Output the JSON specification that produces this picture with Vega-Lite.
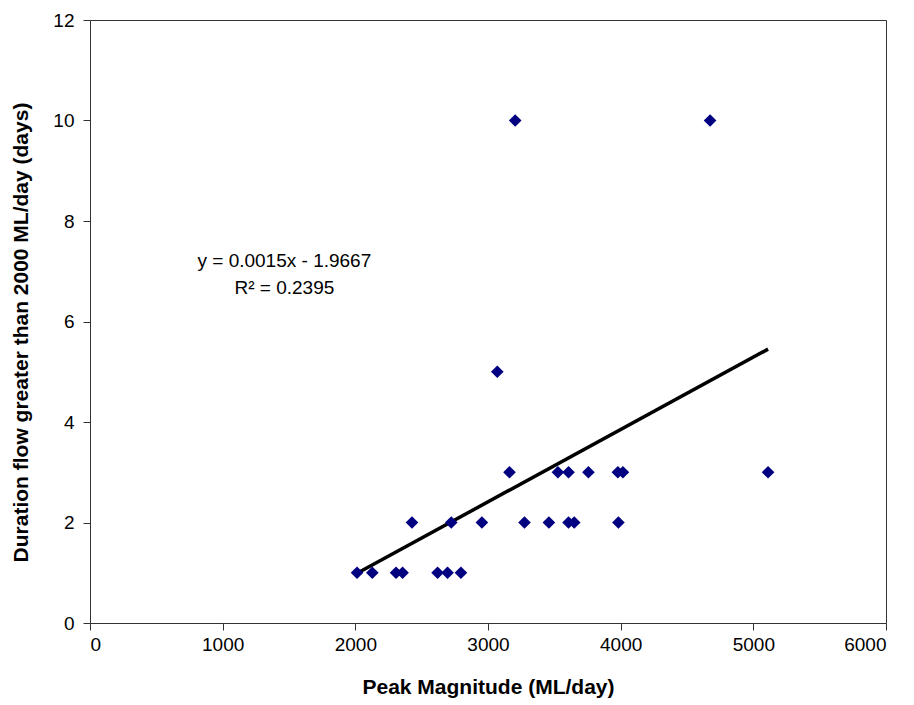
{
  "$schema": "https://vega.github.io/schema/vega-lite/v6.json",
  "autosize": {"type": "none"},
  "width": 796,
  "height": 603,
  "padding": {"left": 90, "top": 20, "right": 28, "bottom": 82},
  "background": "white",
  "config": {
    "view": {"stroke": "#333333", "strokeWidth": 1},
    "font": "Liberation Sans"
  },
  "datasets": {
    "points": [
      {"peak": 2013, "duration": 1}, {"peak": 2128, "duration": 1}, {"peak": 2307, "duration": 1},
      {"peak": 2356, "duration": 1}, {"peak": 2620, "duration": 1}, {"peak": 2695, "duration": 1},
      {"peak": 2796, "duration": 1},
      {"peak": 2427, "duration": 2}, {"peak": 2723, "duration": 2}, {"peak": 2954, "duration": 2},
      {"peak": 3275, "duration": 2}, {"peak": 3459, "duration": 2}, {"peak": 3607, "duration": 2},
      {"peak": 3650, "duration": 2}, {"peak": 3983, "duration": 2},
      {"peak": 3162, "duration": 3}, {"peak": 3527, "duration": 3}, {"peak": 3607, "duration": 3},
      {"peak": 3757, "duration": 3}, {"peak": 3979, "duration": 3}, {"peak": 4017, "duration": 3},
      {"peak": 5111, "duration": 3},
      {"peak": 3070, "duration": 5},
      {"peak": 3205, "duration": 10}, {"peak": 4674, "duration": 10}
    ],
    "trend": [
      {"peak": 2013, "duration": 0.99},
      {"peak": 5111, "duration": 5.45}
    ],
    "labels": [
      {"peak": 1465, "duration": 7.21, "text": "y = 0.0015x - 1.9667"},
      {"peak": 1465, "duration": 6.67, "text": "R² = 0.2395"}
    ]
  },
  "layer": [
    {
      "data": {"name": "trend"},
      "mark": {"type": "line", "color": "black", "strokeWidth": 3.5},
      "encoding": {
        "x": {
          "field": "peak", "type": "quantitative",
          "scale": {"domain": [0, 6000], "nice": false},
          "axis": {
            "title": "Peak Magnitude (ML/day)",
            "values": [0, 1000, 2000, 3000, 4000, 5000, 6000],
            "format": "d",
            "grid": false, "domain": false,
            "tickColor": "#333333", "tickSize": 7,
            "labelFontSize": 19, "labelColor": "black", "labelPadding": 5,
            "titleFontSize": 21, "titleFontWeight": "bold", "titleColor": "black",
            "titlePadding": 22
          }
        },
        "y": {
          "field": "duration", "type": "quantitative",
          "scale": {"domain": [0, 12], "nice": false},
          "axis": {
            "title": "Duration flow greater than 2000 ML/day  (days)",
            "values": [0, 2, 4, 6, 8, 10, 12],
            "grid": false, "domain": false,
            "tickColor": "#333333", "tickSize": 7,
            "labelFontSize": 19, "labelColor": "black", "labelPadding": 9,
            "titleFontSize": 21, "titleFontWeight": "bold", "titleColor": "black",
            "titlePadding": 21, "titleY": 312
          }
        }
      }
    },
    {
      "data": {"name": "points"},
      "mark": {"type": "point", "shape": "diamond", "filled": true, "color": "#000080", "size": 160, "opacity": 1},
      "encoding": {
        "x": {"field": "peak", "type": "quantitative"},
        "y": {"field": "duration", "type": "quantitative"}
      }
    },
    {
      "data": {"name": "labels"},
      "mark": {"type": "text", "fontSize": 19, "color": "black", "align": "center", "baseline": "middle"},
      "encoding": {
        "x": {"field": "peak", "type": "quantitative"},
        "y": {"field": "duration", "type": "quantitative"},
        "text": {"field": "text"}
      }
    }
  ]
}
